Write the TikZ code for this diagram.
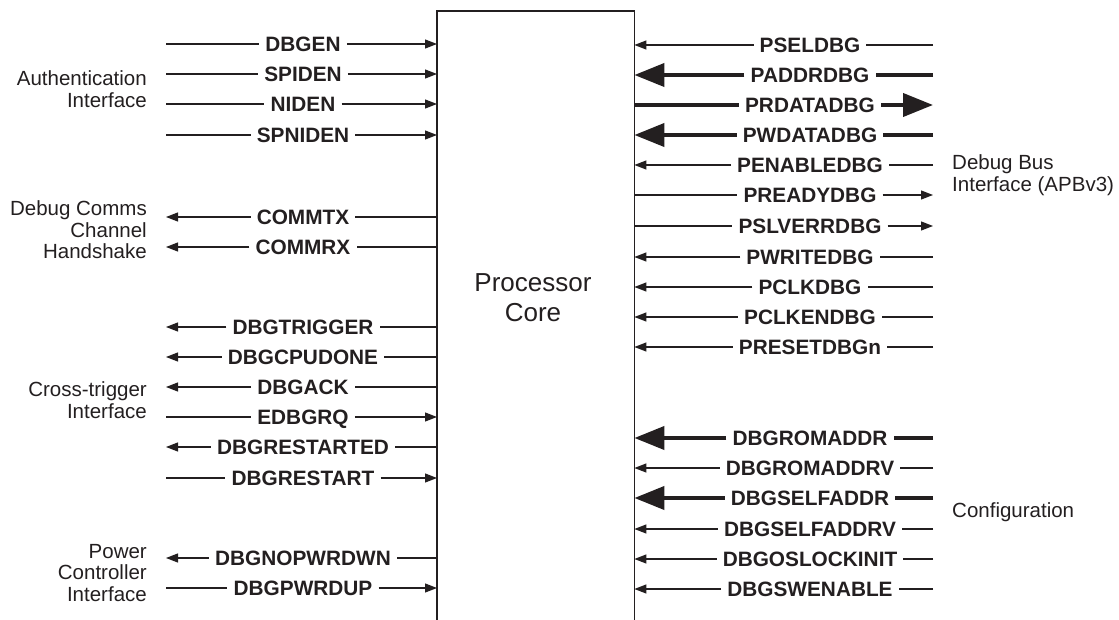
\documentclass[tikz,border=0pt]{standalone}
\usepackage{fontspec}
\setmainfont{Liberation Sans}
\usetikzlibrary{arrows.meta}
\usepackage{xcolor}
\definecolor{ink}{HTML}{231F20}

\tikzset{
    sig/.style = {font=\fontsize{20.8}{22}\selectfont\bfseries, text=ink,
                  inner xsep=6pt, inner ysep=0pt, text height=15pt, text depth=0pt},
    grp/.style = {font=\fontsize{20.5}{21.5}\selectfont, text=ink, inner sep=0pt},
    wire/.style = {draw=ink, line width=1.2pt, -{Triangle[length=12pt,width=9pt]}},
    bus/.style = {draw=ink, line width=4pt, -{Triangle[length=30pt,width=23pt]}},
}

\begin{document}
\begin{tikzpicture}[x=1pt, y=-1pt]
        \useasboundingbox (0,0) rectangle (1119,620);

        \node[minimum width=197pt, minimum height=609pt, inner sep=0pt, anchor=north west] (core) at (437,11) {};
        \draw[draw=ink, line width=1.5pt] (core.south west) |- (core.north east) -- (core.south east);
        \node[font=\fontsize{26}{30}\selectfont, text=ink, align=center] (corename) at (533,298) {Processor\\Core};

        \coordinate (lend) at (166,0);
        \coordinate (rend) at (933,0);

        % left side
        \node[grp, anchor=east, align=right] (auth) at (147,89) {Authentication\\Interface};
        \node[sig] (dbgen) at (303,44) {DBGEN};
        \draw[wire] (lend |- dbgen) -- (dbgen) -- (core.west |- dbgen);
        \node[sig] (spiden) at (303,74) {SPIDEN};
        \draw[wire] (lend |- spiden) -- (spiden) -- (core.west |- spiden);
        \node[sig] (niden) at (303,104) {NIDEN};
        \draw[wire] (lend |- niden) -- (niden) -- (core.west |- niden);
        \node[sig] (spniden) at (303,135) {SPNIDEN};
        \draw[wire] (lend |- spniden) -- (spniden) -- (core.west |- spniden);

        \node[grp, anchor=east, align=right] (dcc) at (147,230) {Debug Comms\\Channel\\Handshake};
        \node[sig] (commtx) at (303,217) {COMMTX};
        \draw[wire] (core.west |- commtx) -- (commtx) -- (lend |- commtx);
        \node[sig] (commrx) at (303,247) {COMMRX};
        \draw[wire] (core.west |- commrx) -- (commrx) -- (lend |- commrx);

        \node[grp, anchor=east, align=right] (cti) at (147,400) {Cross-trigger\\Interface};
        \node[sig] (dbgtrigger) at (303,327) {DBGTRIGGER};
        \draw[wire] (core.west |- dbgtrigger) -- (dbgtrigger) -- (lend |- dbgtrigger);
        \node[sig] (dbgcpudone) at (303,357) {DBGCPUDONE};
        \draw[wire] (core.west |- dbgcpudone) -- (dbgcpudone) -- (lend |- dbgcpudone);
        \node[sig] (dbgack) at (303,387) {DBGACK};
        \draw[wire] (core.west |- dbgack) -- (dbgack) -- (lend |- dbgack);
        \node[sig] (edbgrq) at (303,417) {EDBGRQ};
        \draw[wire] (lend |- edbgrq) -- (edbgrq) -- (core.west |- edbgrq);
        \node[sig] (dbgrestarted) at (303,447) {DBGRESTARTED};
        \draw[wire] (core.west |- dbgrestarted) -- (dbgrestarted) -- (lend |- dbgrestarted);
        \node[sig] (dbgrestart) at (303,478) {DBGRESTART};
        \draw[wire] (lend |- dbgrestart) -- (dbgrestart) -- (core.west |- dbgrestart);

        \node[grp, anchor=east, align=right] (pci) at (147,573) {Power\\Controller\\Interface};
        \node[sig] (dbgnopwrdwn) at (303,558) {DBGNOPWRDWN};
        \draw[wire] (core.west |- dbgnopwrdwn) -- (dbgnopwrdwn) -- (lend |- dbgnopwrdwn);
        \node[sig] (dbgpwrdup) at (303,588) {DBGPWRDUP};
        \draw[wire] (lend |- dbgpwrdup) -- (dbgpwrdup) -- (core.west |- dbgpwrdup);

        % right side
        \node[grp, anchor=west, align=left] (apb) at (952,175) {Debug Bus\\Interface (APBv3)};
        \node[sig] (pseldbg) at (810,45) {PSELDBG};
        \draw[wire] (rend |- pseldbg) -- (pseldbg) -- (core.east |- pseldbg);
        \node[sig] (paddrdbg) at (810,75) {PADDRDBG};
        \draw[bus] (rend |- paddrdbg) -- (paddrdbg) -- (core.east |- paddrdbg);
        \node[sig] (prdatadbg) at (810,105) {PRDATADBG};
        \draw[bus] (core.east |- prdatadbg) -- (prdatadbg) -- (rend |- prdatadbg);
        \node[sig] (pwdatadbg) at (810,135) {PWDATADBG};
        \draw[bus] (rend |- pwdatadbg) -- (pwdatadbg) -- (core.east |- pwdatadbg);
        \node[sig] (penabledbg) at (810,165) {PENABLEDBG};
        \draw[wire] (rend |- penabledbg) -- (penabledbg) -- (core.east |- penabledbg);
        \node[sig] (preadydbg) at (810,195) {PREADYDBG};
        \draw[wire] (core.east |- preadydbg) -- (preadydbg) -- (rend |- preadydbg);
        \node[sig] (pslverrdbg) at (810,226) {PSLVERRDBG};
        \draw[wire] (core.east |- pslverrdbg) -- (pslverrdbg) -- (rend |- pslverrdbg);
        \node[sig] (pwritedbg) at (810,257) {PWRITEDBG};
        \draw[wire] (rend |- pwritedbg) -- (pwritedbg) -- (core.east |- pwritedbg);
        \node[sig] (pclkdbg) at (810,287) {PCLKDBG};
        \draw[wire] (rend |- pclkdbg) -- (pclkdbg) -- (core.east |- pclkdbg);
        \node[sig] (pclkendbg) at (810,317) {PCLKENDBG};
        \draw[wire] (rend |- pclkendbg) -- (pclkendbg) -- (core.east |- pclkendbg);
        \node[sig] (presetdbgn) at (810,347) {PRESETDBGn};
        \draw[wire] (rend |- presetdbgn) -- (presetdbgn) -- (core.east |- presetdbgn);

        \node[grp, anchor=west] (config) at (952,512) {Configuration};
        \node[sig] (dbgromaddr) at (810,438) {DBGROMADDR};
        \draw[bus] (rend |- dbgromaddr) -- (dbgromaddr) -- (core.east |- dbgromaddr);
        \node[sig] (dbgromaddrv) at (810,468) {DBGROMADDRV};
        \draw[wire] (rend |- dbgromaddrv) -- (dbgromaddrv) -- (core.east |- dbgromaddrv);
        \node[sig] (dbgselfaddr) at (810,498) {DBGSELFADDR};
        \draw[bus] (rend |- dbgselfaddr) -- (dbgselfaddr) -- (core.east |- dbgselfaddr);
        \node[sig] (dbgselfaddrv) at (810,529) {DBGSELFADDRV};
        \draw[wire] (rend |- dbgselfaddrv) -- (dbgselfaddrv) -- (core.east |- dbgselfaddrv);
        \node[sig] (dbgoslockinit) at (810,559) {DBGOSLOCKINIT};
        \draw[wire] (rend |- dbgoslockinit) -- (dbgoslockinit) -- (core.east |- dbgoslockinit);
        \node[sig] (dbgswenable) at (810,589) {DBGSWENABLE};
        \draw[wire] (rend |- dbgswenable) -- (dbgswenable) -- (core.east |- dbgswenable);
\end{tikzpicture}
\end{document}
